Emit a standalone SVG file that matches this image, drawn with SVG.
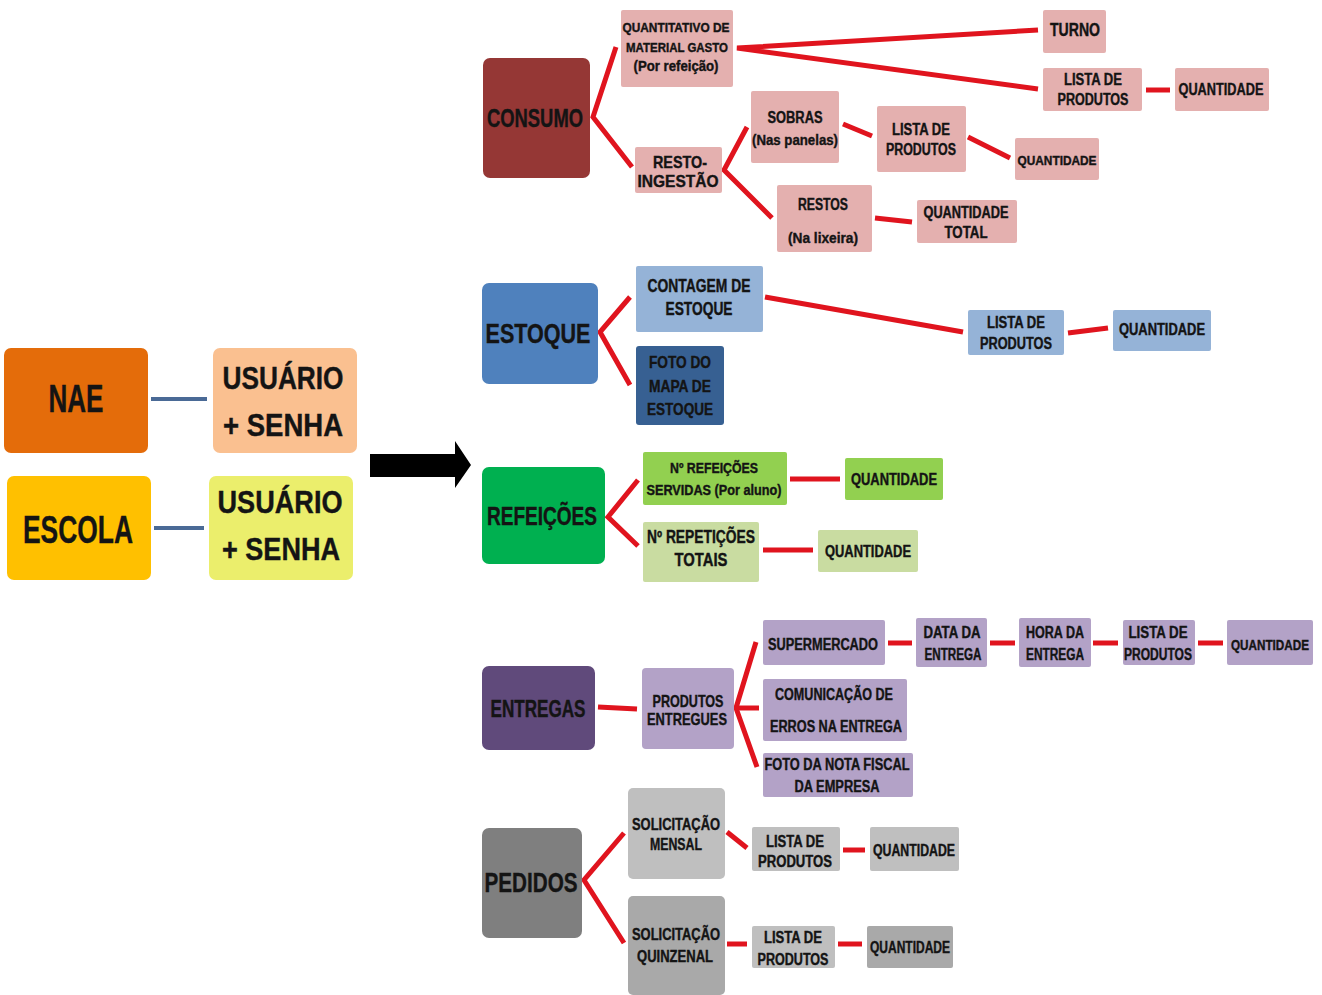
<svg xmlns="http://www.w3.org/2000/svg" width="1322" height="995" viewBox="0 0 1322 995">
<style>
text{font-family:"Liberation Sans",Arial,sans-serif;font-weight:bold;fill:#141414;text-anchor:middle;stroke:#141414;stroke-width:0.4}
.r{stroke:#E0141E;stroke-width:5;fill:none;stroke-linecap:butt}
.b{stroke:#4A6A96;stroke-width:4;fill:none}
.pk{fill:#E4B0AF}
.lb{fill:#95B3D7}
.lil{fill:#B3A2C7}
.g1{fill:#BFBFBF}
.g2{fill:#A9A9A9}
</style>
<rect width="1322" height="995" fill="#ffffff"/>

<g id="connectors">
  <line class="b" x1="151" y1="399" x2="207" y2="399"/>
  <line class="b" x1="154" y1="528" x2="204" y2="528"/>
  <polygon points="370,454 455,454 455,441 471,465 455,488 455,477 370,477" fill="#000"/>
  <polyline class="r" points="616,47 593,117 632,167"/>
  <polyline class="r" points="1038,30 737,48 1038,89"/>
  <polyline class="r" points="747,127 724,170 772,218"/>
  <line class="r" x1="843" y1="124" x2="872" y2="136"/>
  <line class="r" x1="968" y1="137" x2="1010" y2="158"/>
  <line class="r" x1="875" y1="218" x2="912" y2="222"/>
  <line class="r" x1="1146" y1="90" x2="1170" y2="90"/>
  <polyline class="r" points="630,297 600,332 630,385"/>
  <line class="r" x1="765" y1="297" x2="963" y2="332"/>
  <line class="r" x1="1068" y1="333" x2="1108" y2="328"/>
  <polyline class="r" points="638,480 608,517 638,546"/>
  <line class="r" x1="790" y1="479" x2="840" y2="479"/>
  <line class="r" x1="763" y1="550" x2="813" y2="550"/>
  <line class="r" x1="598" y1="707" x2="637" y2="709"/>
  <polyline class="r" points="756,642 736,708 757,767"/>
  <line class="r" x1="736" y1="708" x2="759" y2="708"/>
  <line class="r" x1="888" y1="643" x2="912" y2="643"/>
  <line class="r" x1="990" y1="643" x2="1015" y2="643"/>
  <line class="r" x1="1093" y1="643" x2="1118" y2="643"/>
  <line class="r" x1="1198" y1="643" x2="1223" y2="643"/>
  <polyline class="r" points="624,833 584,880 624,943"/>
  <line class="r" x1="727" y1="832" x2="747" y2="848"/>
  <line class="r" x1="843" y1="850" x2="865" y2="850"/>
  <line class="r" x1="727" y1="944" x2="747" y2="944"/>
  <line class="r" x1="838" y1="944" x2="862" y2="944"/>
</g>

<g id="nae"><rect x="4" y="348" width="144" height="105" rx="7" fill="#E46C0A"/><text x="76" y="412" font-size="38" textLength="55" lengthAdjust="spacingAndGlyphs">NAE</text></g>
<g id="nae-usuario"><rect x="213" y="348" width="144" height="105" rx="7" fill="#FAC090"/><text x="283" y="389" font-size="31" textLength="121" lengthAdjust="spacingAndGlyphs">USUÁRIO</text><text x="283" y="436" font-size="31" textLength="120" lengthAdjust="spacingAndGlyphs">+ SENHA</text></g>
<g id="escola"><rect x="7" y="476" width="144" height="104" rx="7" fill="#FFC000"/><text x="78" y="543" font-size="38" textLength="110" lengthAdjust="spacingAndGlyphs">ESCOLA</text></g>
<g id="escola-usuario"><rect x="209" y="476" width="144" height="104" rx="7" fill="#EBEE6C"/><text x="280" y="513" font-size="31" textLength="125" lengthAdjust="spacingAndGlyphs">USUÁRIO</text><text x="281" y="560" font-size="31" textLength="118" lengthAdjust="spacingAndGlyphs">+ SENHA</text></g>

<g id="consumo"><rect x="483" y="58" width="107" height="120" rx="7" fill="#953735"/><text x="535" y="127" font-size="26" textLength="96" lengthAdjust="spacingAndGlyphs">CONSUMO</text></g>
<g id="quantitativo"><rect class="pk" x="621" y="10" width="112" height="77" rx="2"/><text x="676" y="32" font-size="13" textLength="107" lengthAdjust="spacingAndGlyphs">QUANTITATIVO DE</text><text x="677" y="52" font-size="13" textLength="102" lengthAdjust="spacingAndGlyphs">MATERIAL GASTO</text><text x="676" y="71" font-size="14" textLength="85" lengthAdjust="spacingAndGlyphs">(Por refeição)</text></g>
<g id="turno"><rect class="pk" x="1043" y="10" width="63" height="43" rx="2"/><text x="1075" y="36" font-size="18" textLength="50" lengthAdjust="spacingAndGlyphs">TURNO</text></g>
<g id="consumo-lista"><rect class="pk" x="1043" y="68" width="99" height="43" rx="2"/><text x="1093" y="85" font-size="16" textLength="58" lengthAdjust="spacingAndGlyphs">LISTA DE</text><text x="1093" y="105" font-size="16" textLength="71" lengthAdjust="spacingAndGlyphs">PRODUTOS</text></g>
<g id="consumo-quantidade"><rect class="pk" x="1175" y="68" width="94" height="43" rx="2"/><text x="1221" y="95" font-size="17" textLength="85" lengthAdjust="spacingAndGlyphs">QUANTIDADE</text></g>
<g id="resto-ingestao"><rect class="pk" x="635" y="147" width="87" height="46" rx="2"/><text x="680" y="168" font-size="17" textLength="54" lengthAdjust="spacingAndGlyphs">RESTO-</text><text x="678" y="187" font-size="17" textLength="81" lengthAdjust="spacingAndGlyphs">INGESTÃO</text></g>
<g id="sobras"><rect class="pk" x="751" y="91" width="88" height="72" rx="2"/><text x="795" y="123" font-size="16" textLength="55" lengthAdjust="spacingAndGlyphs">SOBRAS</text><text x="795" y="145" font-size="15" textLength="86" lengthAdjust="spacingAndGlyphs">(Nas panelas)</text></g>
<g id="sobras-lista"><rect class="pk" x="877" y="106" width="89" height="66" rx="2"/><text x="921" y="135" font-size="16" textLength="58" lengthAdjust="spacingAndGlyphs">LISTA DE</text><text x="921" y="155" font-size="16" textLength="70" lengthAdjust="spacingAndGlyphs">PRODUTOS</text></g>
<g id="sobras-quantidade"><rect class="pk" x="1015" y="138" width="84" height="42" rx="2"/><text x="1057" y="165" font-size="13" textLength="79" lengthAdjust="spacingAndGlyphs">QUANTIDADE</text></g>
<g id="restos"><rect class="pk" x="777" y="185" width="95" height="67" rx="2"/><text x="823" y="210" font-size="16" textLength="50" lengthAdjust="spacingAndGlyphs">RESTOS</text><text x="823" y="243" font-size="15" textLength="70" lengthAdjust="spacingAndGlyphs">(Na lixeira)</text></g>
<g id="quantidade-total"><rect class="pk" x="917" y="200" width="100" height="43" rx="2"/><text x="966" y="218" font-size="16" textLength="85" lengthAdjust="spacingAndGlyphs">QUANTIDADE</text><text x="966" y="238" font-size="16" textLength="43" lengthAdjust="spacingAndGlyphs">TOTAL</text></g>

<g id="estoque"><rect x="482" y="283" width="116" height="101" rx="7" fill="#4F81BD"/><text x="538" y="343" font-size="28" textLength="105" lengthAdjust="spacingAndGlyphs">ESTOQUE</text></g>
<g id="contagem"><rect class="lb" x="636" y="266" width="127" height="66" rx="2"/><text x="699" y="292" font-size="18" textLength="103" lengthAdjust="spacingAndGlyphs">CONTAGEM DE</text><text x="699" y="315" font-size="18" textLength="67" lengthAdjust="spacingAndGlyphs">ESTOQUE</text></g>
<g id="foto-mapa"><rect x="636" y="346" width="88" height="79" rx="3" fill="#376092"/><text x="680" y="368" font-size="17" textLength="62" lengthAdjust="spacingAndGlyphs">FOTO DO</text><text x="680" y="392" font-size="17" textLength="62" lengthAdjust="spacingAndGlyphs">MAPA DE</text><text x="680" y="415" font-size="17" textLength="66" lengthAdjust="spacingAndGlyphs">ESTOQUE</text></g>
<g id="estoque-lista"><rect class="lb" x="968" y="310" width="96" height="45" rx="2"/><text x="1016" y="328" font-size="16" textLength="58" lengthAdjust="spacingAndGlyphs">LISTA DE</text><text x="1016" y="349" font-size="16" textLength="72" lengthAdjust="spacingAndGlyphs">PRODUTOS</text></g>
<g id="estoque-quantidade"><rect class="lb" x="1113" y="310" width="98" height="41" rx="2"/><text x="1162" y="335" font-size="16" textLength="86" lengthAdjust="spacingAndGlyphs">QUANTIDADE</text></g>

<g id="refeicoes"><rect x="482" y="467" width="123" height="97" rx="7" fill="#00B050"/><text x="542" y="525" font-size="26" textLength="110" lengthAdjust="spacingAndGlyphs">REFEIÇÕES</text></g>
<g id="refeicoes-servidas"><rect x="643" y="452" width="144" height="53" rx="2" fill="#92D050"/><text x="714" y="473" font-size="15" textLength="88" lengthAdjust="spacingAndGlyphs">Nº REFEIÇÕES</text><text x="714" y="495" font-size="15" textLength="135" lengthAdjust="spacingAndGlyphs">SERVIDAS (Por aluno)</text></g>
<g id="refeicoes-quantidade"><rect x="845" y="458" width="98" height="42" rx="2" fill="#92D050"/><text x="894" y="485" font-size="16" textLength="86" lengthAdjust="spacingAndGlyphs">QUANTIDADE</text></g>
<g id="repeticoes"><rect x="643" y="522" width="116" height="60" rx="2" fill="#C9DCA1"/><text x="701" y="543" font-size="18" textLength="108" lengthAdjust="spacingAndGlyphs">Nº REPETIÇÕES</text><text x="701" y="566" font-size="18" textLength="53" lengthAdjust="spacingAndGlyphs">TOTAIS</text></g>
<g id="repeticoes-quantidade"><rect x="818" y="530" width="100" height="42" rx="2" fill="#C9DCA1"/><text x="868" y="557" font-size="16" textLength="86" lengthAdjust="spacingAndGlyphs">QUANTIDADE</text></g>

<g id="entregas"><rect x="482" y="666" width="113" height="84" rx="7" fill="#604A7B"/><text x="538" y="717" font-size="23" textLength="95" lengthAdjust="spacingAndGlyphs">ENTREGAS</text></g>
<g id="produtos-entregues"><rect class="lil" x="642" y="668" width="92" height="81" rx="4"/><text x="688" y="707" font-size="17" textLength="71" lengthAdjust="spacingAndGlyphs">PRODUTOS</text><text x="687" y="725" font-size="17" textLength="80" lengthAdjust="spacingAndGlyphs">ENTREGUES</text></g>
<g id="supermercado"><rect class="lil" x="763" y="620" width="122" height="45" rx="2"/><text x="823" y="650" font-size="16" textLength="110" lengthAdjust="spacingAndGlyphs">SUPERMERCADO</text></g>
<g id="comunicacao"><rect class="lil" x="763" y="679" width="144" height="62" rx="2"/><text x="834" y="700" font-size="16" textLength="118" lengthAdjust="spacingAndGlyphs">COMUNICAÇÃO DE</text><text x="836" y="732" font-size="16" textLength="132" lengthAdjust="spacingAndGlyphs">ERROS NA ENTREGA</text></g>
<g id="nota-fiscal"><rect class="lil" x="763" y="753" width="150" height="44" rx="2"/><text x="837" y="770" font-size="16" textLength="145" lengthAdjust="spacingAndGlyphs">FOTO DA NOTA FISCAL</text><text x="837" y="792" font-size="16" textLength="85" lengthAdjust="spacingAndGlyphs">DA EMPRESA</text></g>
<g id="data-entrega"><rect class="lil" x="916" y="618" width="71" height="49" rx="2"/><text x="952" y="638" font-size="16" textLength="57" lengthAdjust="spacingAndGlyphs">DATA DA</text><text x="953" y="660" font-size="16" textLength="57" lengthAdjust="spacingAndGlyphs">ENTREGA</text></g>
<g id="hora-entrega"><rect class="lil" x="1019" y="618" width="72" height="49" rx="2"/><text x="1055" y="638" font-size="16" textLength="58" lengthAdjust="spacingAndGlyphs">HORA DA</text><text x="1055" y="660" font-size="16" textLength="58" lengthAdjust="spacingAndGlyphs">ENTREGA</text></g>
<g id="entregas-lista"><rect class="lil" x="1123" y="620" width="72" height="45" rx="2"/><text x="1158" y="638" font-size="16" textLength="59" lengthAdjust="spacingAndGlyphs">LISTA DE</text><text x="1158" y="660" font-size="16" textLength="68" lengthAdjust="spacingAndGlyphs">PRODUTOS</text></g>
<g id="entregas-quantidade"><rect class="lil" x="1227" y="620" width="86" height="45" rx="2"/><text x="1270" y="650" font-size="14" textLength="78" lengthAdjust="spacingAndGlyphs">QUANTIDADE</text></g>

<g id="pedidos"><rect x="482" y="828" width="100" height="110" rx="7" fill="#7F7F7F"/><text x="531" y="892" font-size="28" textLength="93" lengthAdjust="spacingAndGlyphs">PEDIDOS</text></g>
<g id="solicitacao-mensal"><rect class="g1" x="628" y="788" width="97" height="91" rx="5"/><text x="676" y="830" font-size="16" textLength="88" lengthAdjust="spacingAndGlyphs">SOLICITAÇÃO</text><text x="676" y="850" font-size="16" textLength="52" lengthAdjust="spacingAndGlyphs">MENSAL</text></g>
<g id="solicitacao-quinzenal"><rect class="g2" x="628" y="896" width="97" height="99" rx="5"/><text x="676" y="940" font-size="16" textLength="88" lengthAdjust="spacingAndGlyphs">SOLICITAÇÃO</text><text x="675" y="962" font-size="16" textLength="76" lengthAdjust="spacingAndGlyphs">QUINZENAL</text></g>
<g id="mensal-lista"><rect class="g1" x="752" y="827" width="88" height="44" rx="2"/><text x="795" y="847" font-size="16" textLength="58" lengthAdjust="spacingAndGlyphs">LISTA DE</text><text x="795" y="867" font-size="16" textLength="74" lengthAdjust="spacingAndGlyphs">PRODUTOS</text></g>
<g id="mensal-quantidade"><rect class="g1" x="870" y="827" width="89" height="44" rx="2"/><text x="914" y="856" font-size="16" textLength="82" lengthAdjust="spacingAndGlyphs">QUANTIDADE</text></g>
<g id="quinzenal-lista"><rect class="g1" x="752" y="926" width="83" height="42" rx="2"/><text x="793" y="943" font-size="16" textLength="58" lengthAdjust="spacingAndGlyphs">LISTA DE</text><text x="793" y="965" font-size="16" textLength="71" lengthAdjust="spacingAndGlyphs">PRODUTOS</text></g>
<g id="quinzenal-quantidade"><rect class="g2" x="867" y="926" width="86" height="42" rx="2"/><text x="910" y="953" font-size="16" textLength="80" lengthAdjust="spacingAndGlyphs">QUANTIDADE</text></g>
</svg>
